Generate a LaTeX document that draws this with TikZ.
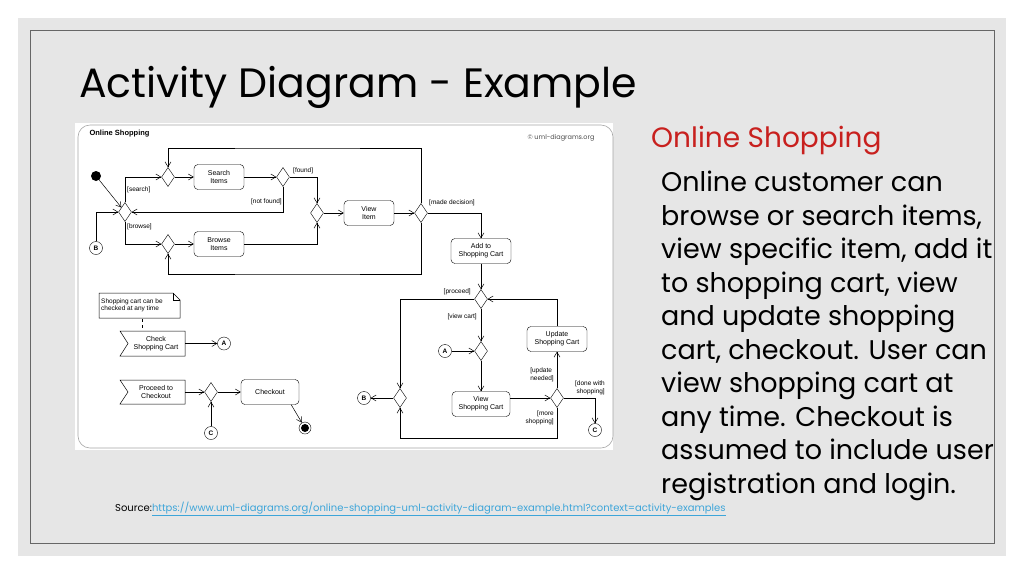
\documentclass[tikz,border=0pt]{standalone}
\usepackage{fontspec}
\setmainfont{Poppins}
\newfontfamily\dfont{Liberation Sans}
\usetikzlibrary{shapes.geometric,arrows.meta,positioning}
\definecolor{slidegray}{HTML}{E6E6E6}
\definecolor{titlered}{HTML}{C8201E}
\definecolor{linkblue}{HTML}{3DA5D9}
\begin{document}
\begin{tikzpicture}[x=1pt,y=-1pt,
  every node/.style={font=\dfont\fontsize{7}{8}\selectfont},
  act/.style={draw,rounded corners=4pt,minimum width=50pt,minimum height=25pt,align=center,inner sep=1pt},
  dec/.style={draw,diamond,minimum width=13pt,minimum height=19pt,inner sep=0pt},
  conn/.style={draw,circle,minimum size=13pt,inner sep=0pt,font=\dfont\bfseries\fontsize{6.5}{7}\selectfont},
  arr/.style={-{Straight Barb[length=5pt,width=6pt]},line width=0.5pt},
  lbl/.style={inner sep=1pt,font=\dfont\fontsize{6.5}{7.5}\selectfont,align=center},
  slidetext/.style={font=\fontsize{27}{33.5}\selectfont,align=left,anchor=north west,inner sep=0pt}]
\useasboundingbox (0,0) rectangle (1024,574);
\fill[white] (0,0) rectangle (1024,574);
\fill[slidegray] (18,18) rectangle (1006,556);
\draw[gray!80!black,line width=0.8pt] (30,30) rectangle (994,543);
\node[anchor=base west,inner sep=0pt,font=\fontsize{41}{48}\selectfont] (title) at (79,97) {Activity Diagram - Example};
\node[anchor=base west,inner sep=0pt,text=titlered,font=\fontsize{28}{34}\selectfont] (sub) at (651,147) {Online Shopping};
\node[slidetext] (body) at (661,171) {Online customer can\\browse or search items,\\view specific item, add it\\to shopping cart, view\\and update shopping\\cart, checkout. User can\\view shopping cart at\\any time. Checkout is\\assumed to include user\\registration and login.};
\node[anchor=base west,inner sep=0pt,font=\fontsize{10}{12}\selectfont] (src) at (115,511) {Source:\textcolor{linkblue}{\underline{https://www.uml-diagrams.org/online-shopping-uml-activity-diagram-example.html?context=activity-examples}}};
% diagram panel
\fill[white] (75,123) rectangle (613,450);
\draw[gray!70,line width=0.6pt,rounded corners=12pt] (78,448) -- (78,125) -- (613,125) -- (613,448) -- cycle;
\node[anchor=west,font=\dfont\bfseries\fontsize{7.5}{9}\selectfont] (frametitle) at (86,134) {Online Shopping};
\node[anchor=east,font=\fontsize{6.5}{8}\selectfont\rmfamily,text=black!70] (copy) at (598,138) {\textcopyright{} uml-diagrams.org};
% nodes
\node[fill,circle,minimum size=10pt,inner sep=0pt] (init) at (96,176) {};
\node[dec] (d1) at (125,212) {};
\node[conn] (B1) at (96,248) {B};
\node[dec] (d2) at (168,177) {};
\node[act] (search) at (219,177) {Search\\Items};
\node[dec] (d3) at (283,177) {};
\node[dec] (d4) at (317,213) {};
\node[act] (view) at (369,213) {View\\Item};
\node[dec] (d5) at (421,213) {};
\node[dec] (d6) at (168,244) {};
\node[act] (browse) at (219,244) {Browse\\Items};
\node[act,minimum width=60pt] (add) at (481,251) {Add to\\Shopping Cart};
\node[dec] (d7) at (481,299) {};
\node[dec] (d9) at (481,351) {};
\node[conn] (A2) at (445,351) {A};
\node[act,minimum width=58pt] (vcart) at (481,404) {View\\Shopping Cart};
\node[dec] (d10) at (557,398) {};
\node[act,minimum width=60pt] (upd) at (557,339) {Update\\Shopping Cart};
\node[conn] (C2) at (595,430) {C};
\node[dec] (d8) at (400,398) {};
\node[conn] (B2) at (364,398) {B};
\coordinate (top) at (300,148);
\coordinate (bot) at (300,274);
% note
\draw[line width=0.5pt] (99,293) -- (173,293) -- (180,300) -- (180,318) -- (99,318) -- cycle;
\draw[line width=0.5pt] (173,293) -- (173,300) -- (180,300);
\node[lbl,align=left,anchor=west] (note) at (100,305.5) {Shopping cart can be\\checked at any time};
% accept event shapes
\draw[line width=0.5pt] (120,331) -- (185,331) -- (185,356) -- (120,356) -- (128,343.5) -- cycle;
\node[align=center] (check) at (156,343.5) {Check\\Shopping Cart};
\draw[line width=0.5pt] (120,380) -- (185,380) -- (185,404) -- (120,404) -- (128,392) -- cycle;
\node[align=center] (proc) at (156,392) {Proceed to\\Checkout};
\draw[dashed,line width=0.4pt] (142,319) -- (142,331);
\node[conn] (A1) at (224,343.5) {A};
\node[dec] (d11) at (211,392) {};
\node[conn] (C1) at (211,433) {C};
\node[act,minimum width=58pt] (checkout) at (270,392) {Checkout};
\node[circle,draw,minimum size=12pt,inner sep=0pt] (final) at (305,428) {};
\fill (final) circle (4pt);
% edges
\draw[arr] (init) -- (d1);
\draw[arr] (B1) |- (d1);
\draw[arr] (d1) |- (d2);
\draw[arr] (d2) -- (search);
\draw[arr] (search) -- (d3);
\draw[arr] (d3) |- (d1);
\draw[arr] (d3) -| (d4);
\draw[arr] (d1) |- (d6);
\draw[arr] (d6) -- (browse);
\draw[arr] (browse) -| (d4);
\draw[arr] (d4) -- (view);
\draw[arr] (view) -- (d5);
\draw[arr] (d5.north) |- (top) -| (d2.north);
\draw[arr] (d5.south) |- (bot) -| (d6.south);
\draw[arr] (d5) -| (add);
\draw[arr] (add) -- (d7);
\draw[arr] (d7) -| (d8);
\draw[arr] (d7) -- (d9);
\draw[arr] (A2) -- (d9);
\draw[arr] (d9) -- (vcart);
\draw[arr] (vcart.east |- d10) -- (d10);
\draw[arr] (d10) -- (upd);
\draw[arr] (upd) |- (d7);
\draw[arr] (d10) -| (C2);
\draw[arr] (d10.south) |- (400,438) -- (d8.south);
\draw[arr] (d8) -- (B2);
\draw[arr] (check) ++(29,0) -- (A1);
\draw[arr] (185,392) -- (d11);
\draw[arr] (C1) -- (d11);
\draw[arr] (d11) -- (checkout);
\draw[arr] (checkout.south east) ++(-8,0) -- (final);
% labels
\node[lbl,anchor=west] (l1) at (126,190) {[search]};
\node[lbl,anchor=east] (l2) at (283,202) {[not found]};
\node[lbl,anchor=west] (l3) at (292,171) {[found]};
\node[lbl,anchor=west] (l4) at (126,227) {[browse]};
\node[lbl,anchor=west] (l5) at (428,203) {[made decision]};
\node[lbl,anchor=east] (l6) at (472,292) {[proceed]};
\node[lbl,anchor=east] (l7) at (478,317) {[view cart]};
\node[lbl,anchor=east,align=left] (l8) at (555,375) {[update\\needed]};
\node[lbl,anchor=east,align=right] (l9) at (606,388) {[done with\\shopping]};
\node[lbl,anchor=east,align=right] (l10) at (555,418) {[more\\shopping]};
\end{tikzpicture}
\end{document}
